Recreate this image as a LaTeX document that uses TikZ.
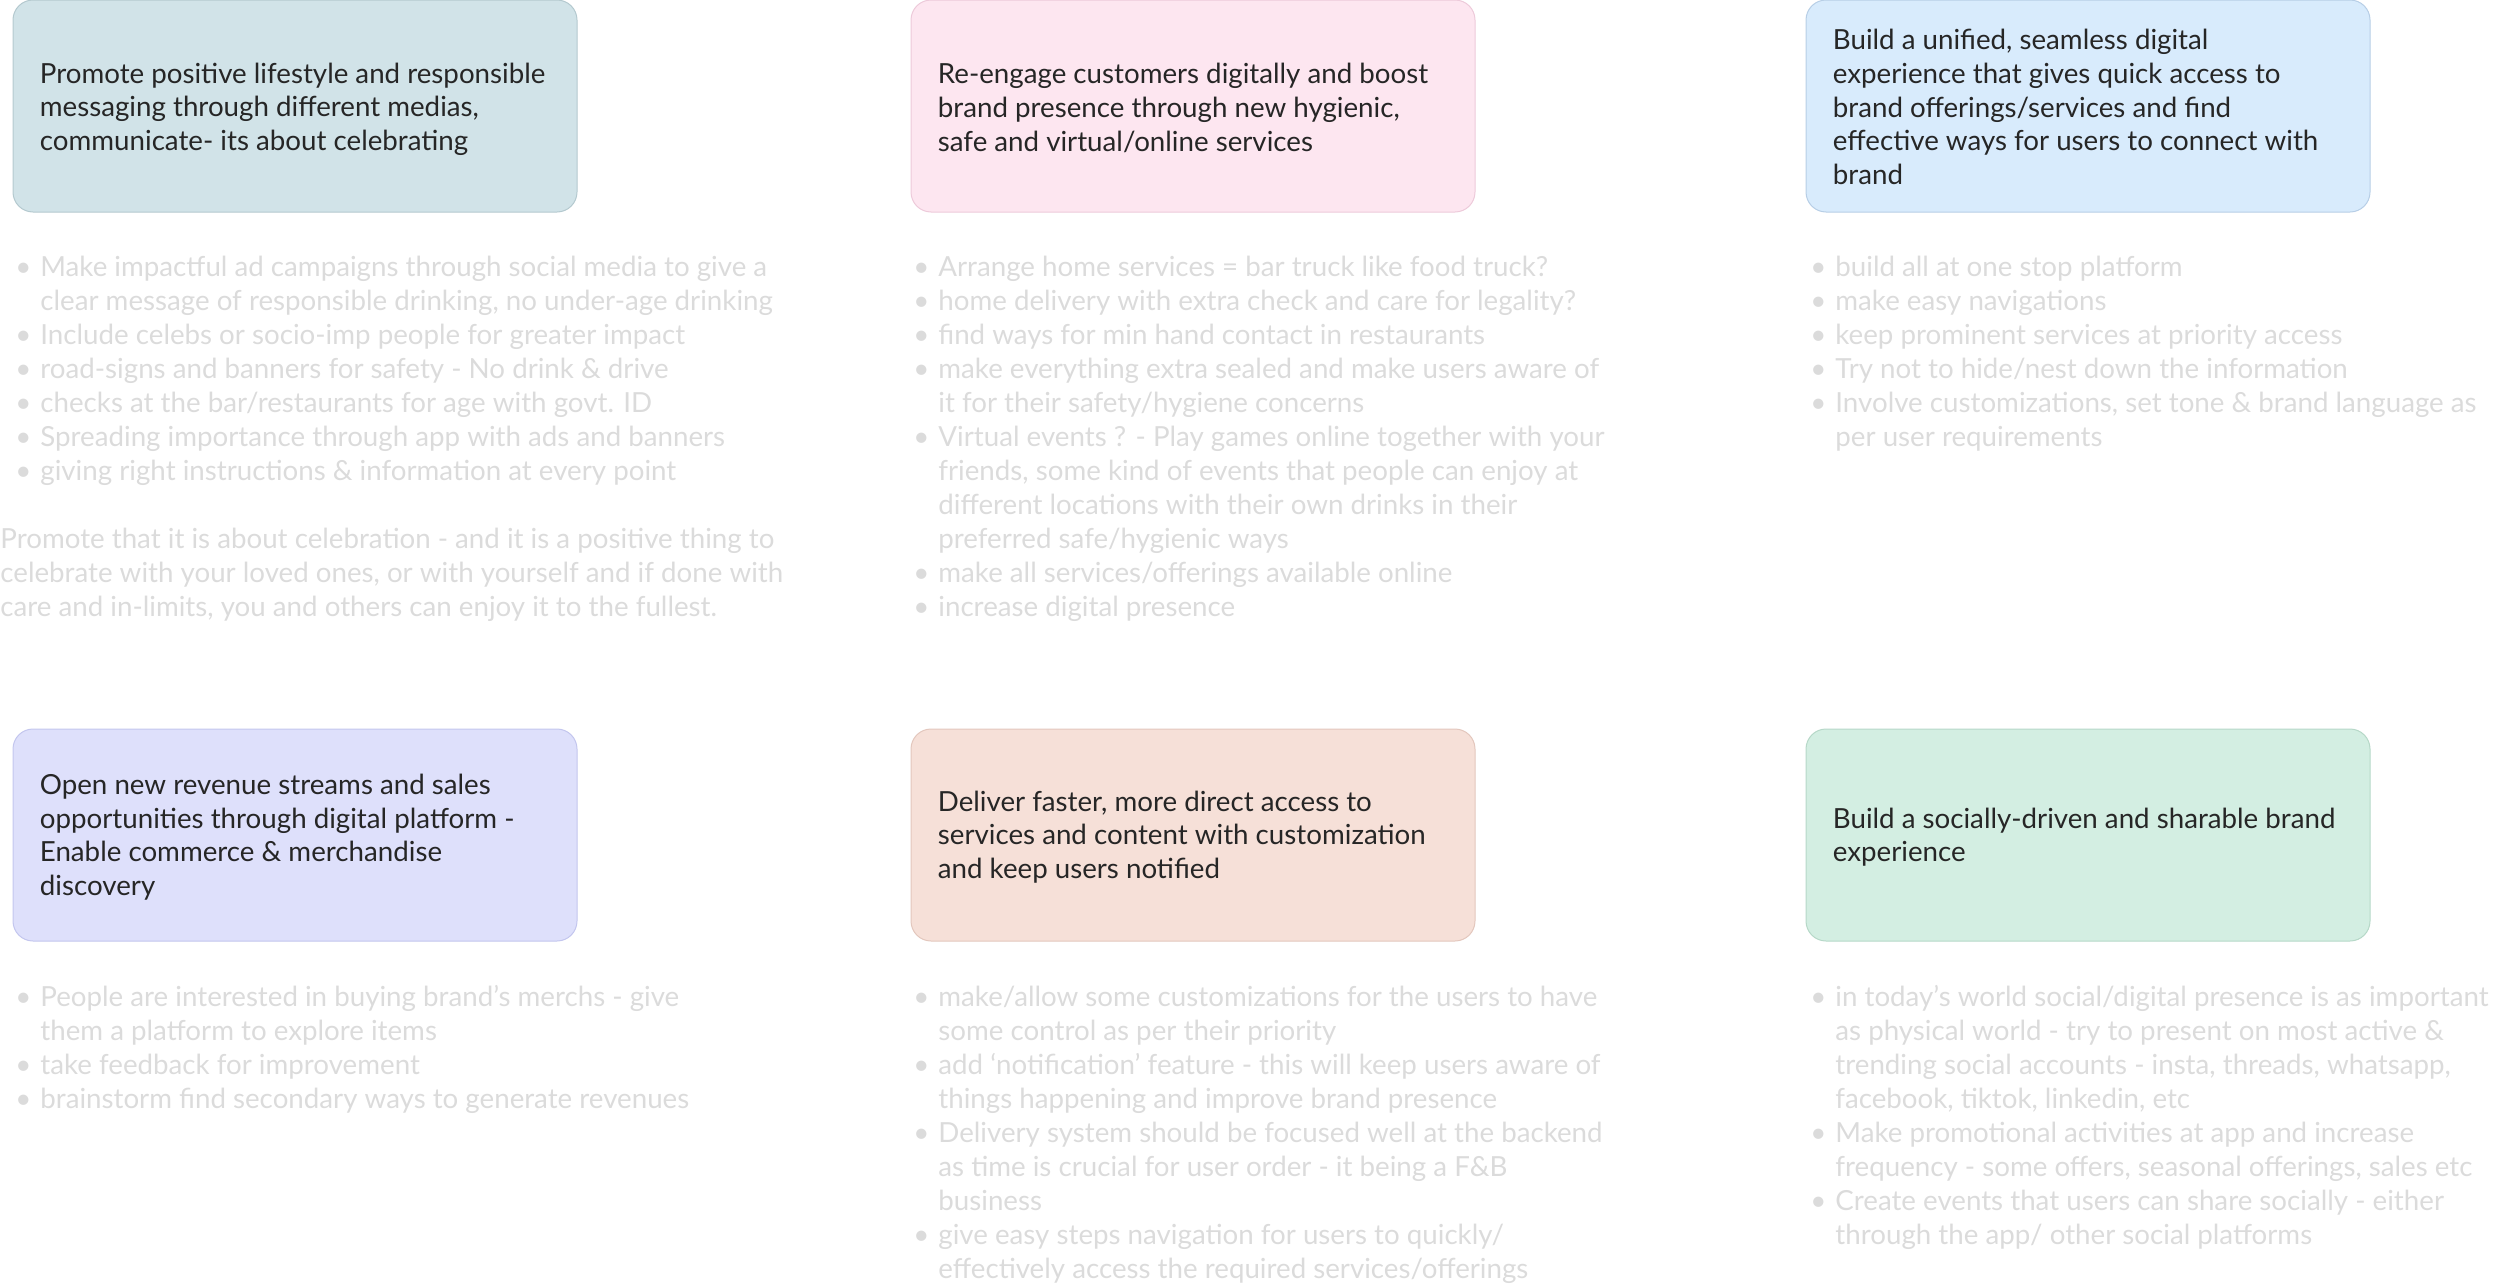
\documentclass[tikz,border=0pt]{standalone}
\usepackage{fontspec}
\setmainfont{Lato}
\definecolor{titlefg}{HTML}{262626}
\definecolor{notefg}{HTML}{DBDBDB}
\definecolor{fillA}{HTML}{D1E3E8}\definecolor{edgeA}{HTML}{B4C9CF}
\definecolor{fillB}{HTML}{FDE6F0}\definecolor{edgeB}{HTML}{EDCADA}
\definecolor{fillC}{HTML}{D8EBFC}\definecolor{edgeC}{HTML}{B7CEE6}
\definecolor{fillD}{HTML}{DEE0FB}\definecolor{edgeD}{HTML}{C3C6EE}
\definecolor{fillE}{HTML}{F6E0D8}\definecolor{edgeE}{HTML}{E3C7BD}
\definecolor{fillF}{HTML}{D3EEE2}\definecolor{edgeF}{HTML}{B6D8C8}
\newcommand\bu{\makebox[12.5pt][l]{\textbullet}}
\tikzset{
  goalbox/.style 2 args={rectangle, rounded corners=10pt, fill=#1, draw=#2,
    line width=0.5pt, minimum width=282pt, minimum height=106pt, inner sep=0pt},
  goaltext/.style={anchor=west, inner sep=0pt, text=titlefg,
    font=\fontsize{13.85}{16.8}\selectfont, align=left},
  notes/.style={anchor=base west, inner sep=0pt, text=notefg,
    font=\fontsize{13.85}{17}\selectfont}
}
\begin{document}
\begin{tikzpicture}[x=0.5pt,y=-0.5pt]
\useasboundingbox (0,0) rectangle (2500,1285);
% top row boxes
\node[goalbox={fillA}{edgeA}] (b1) at (295,106) {};
\node[goalbox={fillB}{edgeB}] (b2) at (1193,106) {};
\node[goalbox={fillC}{edgeC}] (b3) at (2088,106) {};
% bottom row boxes
\node[goalbox={fillD}{edgeD}] (b4) at (295,835) {};
\node[goalbox={fillE}{edgeE}] (b5) at (1193,835) {};
\node[goalbox={fillF}{edgeF}] (b6) at (2088,835) {};
% titles
\node[goaltext] (t1) at ([xshift=13.5pt,yshift=-1.5pt]b1.west) {Promote positive lifestyle and responsible\\messaging through different medias,\\communicate- its about celebrating};
\node[goaltext] (t2) at ([xshift=13.5pt,yshift=-1pt]b2.west) {Re-engage customers digitally and boost\\brand presence through new hygienic,\\safe and virtual/online services};
\node[goaltext] (t3) at ([xshift=13.5pt,yshift=-0.5pt]b3.west) {Build a unified, seamless digital\\experience that gives quick access to\\brand offerings/services and find\\effective ways for users to connect with\\brand};
\node[goaltext] (t4) at ([xshift=13.5pt,yshift=-1pt]b4.west) {Open new revenue streams and sales\\opportunities through digital platform -\\Enable commerce \& merchandise\\discovery};
\node[goaltext] (t5) at ([xshift=13.5pt,yshift=-1pt]b5.west) {Deliver faster, more direct access to\\services and content with customization\\and keep users notified};
\node[goaltext] (t6) at ([xshift=13.5pt,yshift=-1pt]b6.west) {Build a socially-driven and sharable brand\\experience};
% notes top row
\node[notes] (n1) at (15,276) {\begin{tabular}[t]{@{}l@{}l@{}}
\bu & Make impactful ad campaigns through social media to give a\\
 & clear message of responsible drinking, no under-age drinking\\
\bu & Include celebs or socio-imp people for greater impact\\
\bu & road-signs and banners for safety - No drink \& drive\\
\bu & checks at the bar/restaurants for age with govt. ID\\
\bu & Spreading importance through app with ads and banners\\
\bu & giving right instructions \& information at every point
\end{tabular}};
\node[notes] (p1) at (0,548) {\begin{tabular}[t]{@{}l@{}}
Promote that it is about celebration - and it is a positive thing to\\
celebrate with your loved ones, or with yourself and if done with\\
care and in-limits, you and others can enjoy it to the fullest.
\end{tabular}};
\node[notes] (n2) at (913,276) {\begin{tabular}[t]{@{}l@{}l@{}}
\bu & Arrange home services = bar truck like food truck?\\
\bu & home delivery with extra check and care for legality?\\
\bu & find ways for min hand contact in restaurants\\
\bu & make everything extra sealed and make users aware of\\
 & it for their safety/hygiene concerns\\
\bu & Virtual events ? - Play games online together with your\\
 & friends, some kind of events that people can enjoy at\\
 & different locations with their own drinks in their\\
 & preferred safe/hygienic ways\\
\bu & make all services/offerings available online\\
\bu & increase digital presence
\end{tabular}};
\node[notes] (n3) at (1810,276) {\begin{tabular}[t]{@{}l@{}l@{}}
\bu & build all at one stop platform\\
\bu & make easy navigations\\
\bu & keep prominent services at priority access\\
\bu & Try not to hide/nest down the information\\
\bu & Involve customizations, set tone \& brand language as\\
 & per user requirements
\end{tabular}};
% notes bottom row
\node[notes] (n4) at (15,1006) {\begin{tabular}[t]{@{}l@{}l@{}}
\bu & People are interested in buying brand’s merchs - give\\
 & them a platform to explore items\\
\bu & take feedback for improvement\\
\bu & brainstorm find secondary ways to generate revenues
\end{tabular}};
\node[notes] (n5) at (913,1006) {\begin{tabular}[t]{@{}l@{}l@{}}
\bu & make/allow some customizations for the users to have\\
 & some control as per their priority\\
\bu & add ‘notification’ feature - this will keep users aware of\\
 & things happening and improve brand presence\\
\bu & Delivery system should be focused well at the backend\\
 & as time is crucial for user order - it being a F\&B\\
 & business\\
\bu & give easy steps navigation for users to quickly/\\
 & effectively access the required services/offerings
\end{tabular}};
\node[notes] (n6) at (1810,1006) {\begin{tabular}[t]{@{}l@{}l@{}}
\bu & in today’s world social/digital presence is as important\\
 & as physical world - try to present on most active \&\\
 & trending social accounts - insta, threads, whatsapp,\\
 & facebook, tiktok, linkedin, etc\\
\bu & Make promotional activities at app and increase\\
 & frequency - some offers, seasonal offerings, sales etc\\
\bu & Create events that users can share socially - either\\
 & through the app/ other social platforms
\end{tabular}};
\end{tikzpicture}
\end{document}
